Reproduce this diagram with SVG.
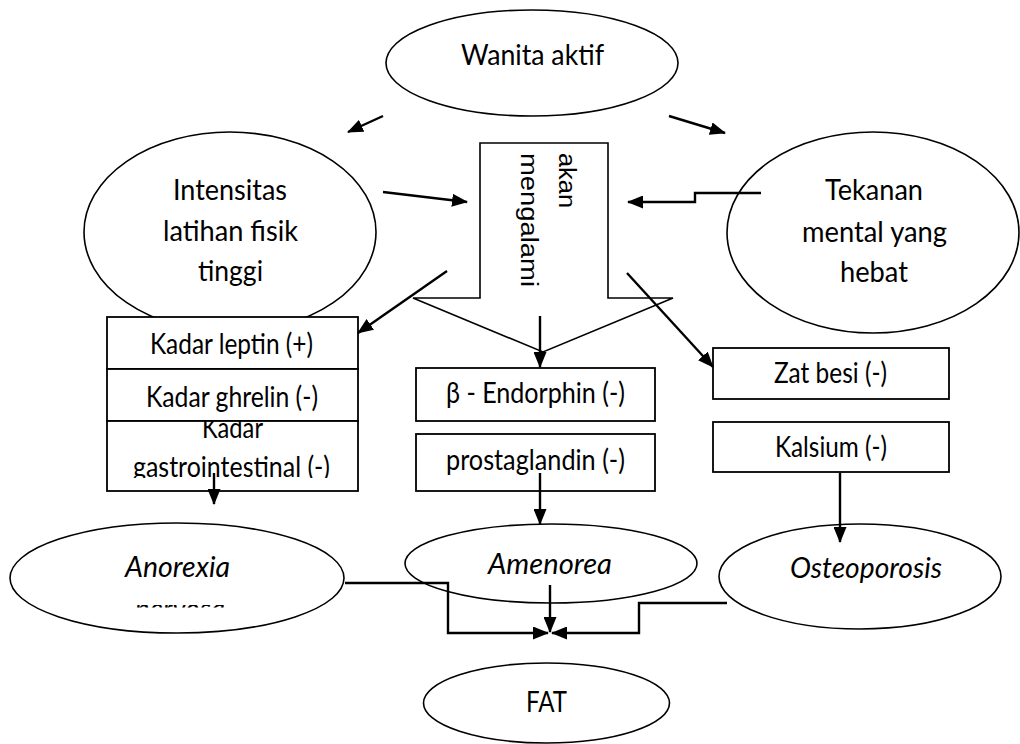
<svg xmlns="http://www.w3.org/2000/svg" width="1020" height="744" viewBox="0 0 1020 744">
<defs>
<style>
.sh{fill:#fff;stroke:#000;stroke-width:1.6}
.bx{fill:#fff;stroke:#000;stroke-width:1.8}
.t{font-family:Lato,"Liberation Sans",sans-serif;font-size:28px;fill:#000;text-anchor:middle}
.i{font-style:italic}
.r{font-family:"Liberation Sans",Arial,sans-serif;font-size:23px;fill:#000}
.c{fill:none;stroke:#000;stroke-width:2.4;marker-end:url(#ah)}
</style>
<marker id="ah" markerUnits="userSpaceOnUse" markerWidth="16" markerHeight="13" refX="15" refY="6.5" orient="auto">
<path d="M0,0 L16,6.5 L0,13 Z" fill="#000"/>
</marker>
<clipPath id="cg"><rect x="100" y="421" width="270" height="57"/></clipPath>
<clipPath id="cn"><rect x="100" y="605" width="160" height="2.5"/></clipPath>
</defs>
<rect width="1020" height="744" fill="#fff"/>

<g id="wanita">
<ellipse class="sh" cx="532" cy="63" rx="146" ry="53"/>
<text class="t" x="532.5" y="65" textLength="143" lengthAdjust="spacingAndGlyphs">Wanita aktif</text>
</g>

<g id="intensitas">
<ellipse class="sh" cx="230" cy="232" rx="146" ry="100"/>
<text class="t" x="230" y="200" textLength="114" lengthAdjust="spacingAndGlyphs">Intensitas</text>
<text class="t" x="230.5" y="241" textLength="135" lengthAdjust="spacingAndGlyphs">latihan fisik</text>
<text class="t" x="230.5" y="281" textLength="65" lengthAdjust="spacingAndGlyphs">tinggi</text>
</g>

<g id="tekanan">
<ellipse class="sh" cx="873" cy="232.5" rx="146" ry="100.5"/>
<text class="t" x="874" y="200" textLength="98" lengthAdjust="spacingAndGlyphs">Tekanan</text>
<text class="t" x="874.5" y="242" textLength="145" lengthAdjust="spacingAndGlyphs">mental yang</text>
<text class="t" x="874" y="282" textLength="68" lengthAdjust="spacingAndGlyphs">hebat</text>
</g>

<g id="mengalami">
<path class="sh" d="M480,143 H608 V298 H673 L543,352 L413,298 H480 Z"/>
<text class="r" transform="translate(559,153) rotate(90)" textLength="55" lengthAdjust="spacingAndGlyphs">akan</text>
<text class="r" transform="translate(521,153) rotate(90)" textLength="134" lengthAdjust="spacingAndGlyphs">mengalami</text>
</g>

<g id="leptin">
<rect class="bx" x="107" y="317" width="251" height="52"/>
<text class="t" x="231.5" y="354" textLength="163" lengthAdjust="spacingAndGlyphs">Kadar leptin (+)</text>
</g>
<g id="ghrelin">
<rect class="bx" x="107" y="369" width="251" height="52"/>
<text class="t" x="232" y="407" textLength="172" lengthAdjust="spacingAndGlyphs">Kadar ghrelin (-)</text>
</g>
<g id="gastro">
<rect class="bx" x="107" y="421" width="251" height="70"/>
<g clip-path="url(#cg)">
<text class="t" x="232.5" y="438" textLength="61" lengthAdjust="spacingAndGlyphs">Kadar</text>
<text class="t" x="231.5" y="477" textLength="197" lengthAdjust="spacingAndGlyphs">gastrointestinal (-)</text>
</g>
</g>

<g id="endorphin">
<rect class="bx" x="416" y="368" width="239" height="53"/>
<text class="t" x="535.5" y="403" textLength="179" lengthAdjust="spacingAndGlyphs">β - Endorphin (-)</text>
</g>
<g id="prostaglandin">
<rect class="bx" x="416" y="434" width="239" height="57"/>
<text class="t" x="535.5" y="470" textLength="179" lengthAdjust="spacingAndGlyphs">prostaglandin (-)</text>
</g>

<g id="zatbesi">
<rect class="bx" x="713" y="348" width="236" height="51"/>
<text class="t" x="830.5" y="383" textLength="113" lengthAdjust="spacingAndGlyphs">Zat besi (-)</text>
</g>
<g id="kalsium">
<rect class="bx" x="713" y="422" width="236" height="50"/>
<text class="t" x="831" y="457" textLength="112" lengthAdjust="spacingAndGlyphs">Kalsium (-)</text>
</g>

<g id="anorexia">
<ellipse class="sh" cx="177" cy="578" rx="167" ry="55"/>
<text class="t i" x="177.5" y="577" textLength="105" lengthAdjust="spacingAndGlyphs">Anorexia</text>
<g clip-path="url(#cn)">
<text class="t i" x="180" y="619" textLength="90" lengthAdjust="spacingAndGlyphs">nervosa</text>
</g>
</g>

<g id="amenorea">
<ellipse class="sh" cx="551" cy="563.5" rx="146" ry="39.5"/>
<text class="t i" x="550" y="574" textLength="124" lengthAdjust="spacingAndGlyphs">Amenorea</text>
</g>

<g id="osteoporosis">
<ellipse class="sh" cx="860" cy="576.5" rx="141" ry="52.5"/>
<text class="t i" x="866" y="578" textLength="152" lengthAdjust="spacingAndGlyphs">Osteoporosis</text>
</g>

<g id="fat">
<ellipse class="sh" cx="546.5" cy="703" rx="123" ry="40"/>
<text class="t" x="546.5" y="712" textLength="41" lengthAdjust="spacingAndGlyphs">FAT</text>
</g>

<g id="connectors">
<path class="c" d="M383,116 L348,132"/>
<path class="c" d="M669,116 L725,133"/>
<path class="c" d="M383,192 L467,202"/>
<path class="c" d="M761,193 H695 V202 H628"/>
<path class="c" d="M447,271 L358,333"/>
<path class="c" d="M627,273 L713,367"/>
<path class="c" d="M540,316 V367"/>
<path class="c" d="M214,473 V504"/>
<path class="c" d="M540,473 V524"/>
<path class="c" d="M840,473 V542"/>
<path class="c" d="M345,583 H448 V633 H548"/>
<path class="c" d="M550,585 V632"/>
<path class="c" d="M727,603 H639 V633 H552"/>
</g>
</svg>
